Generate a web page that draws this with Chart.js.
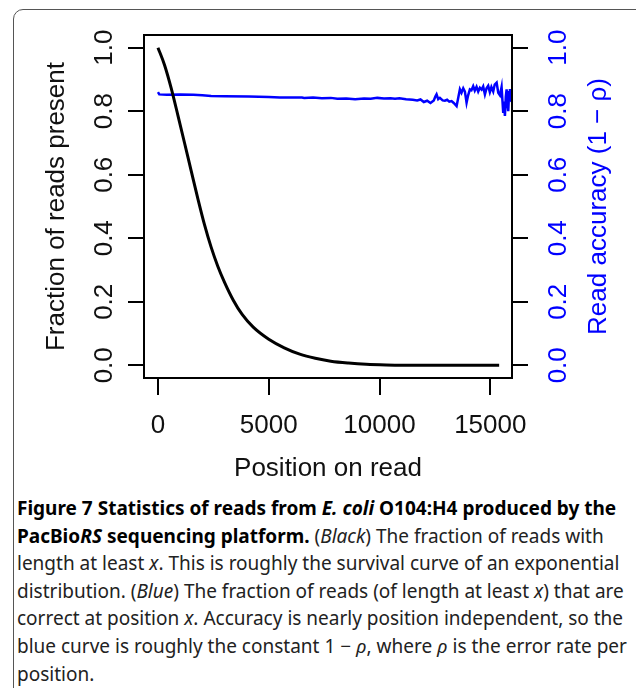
<!DOCTYPE html>
<html>
<head>
<meta charset="utf-8">
<script src="https://cdn.jsdelivr.net/npm/chart.js@4/dist/chart.umd.min.js"></script>
<style>
  html, body { margin: 0; padding: 0; background: #fff; overflow: hidden; }
  body { width: 636px; height: 688px; position: relative; }
  #frame {
    position: absolute; left: 13px; top: 9px; width: 640px; height: 700px;
    border: 1.5px solid #555; border-radius: 10px; box-sizing: border-box;
  }
  #wrap { position: absolute; left: 0; top: 0; width: 636px; height: 490px; }
  #caption {
    position: absolute; left: 17px; top: 495px;
    font-family: "Liberation Sans Narrow", "Noto Sans", sans-serif;
    font-size: 19px; line-height: 27.6px; color: #222;
  }
  #caption div { white-space: nowrap; }
  #caption b { color: #000; }
</style>
</head>
<body>
<div id="frame"></div>
<div id="wrap"><canvas id="myChart" width="636" height="490"></canvas></div>
<div id="caption">
  <div><b>Figure 7 Statistics of reads from <i>E. coli</i> O104:H4 produced by the</b></div>
  <div><b>PacBio<i>RS</i> sequencing platform.</b> (<i>Black</i>) The fraction of reads with</div>
  <div>length at least <i>x</i>. This is roughly the survival curve of an exponential</div>
  <div>distribution. (<i>Blue</i>) The fraction of reads (of length at least <i>x</i>) that are</div>
  <div>correct at position <i>x</i>. Accuracy is nearly position independent, so the</div>
  <div>blue curve is roughly the constant 1 − <i>ρ</i>, where <i>ρ</i> is the error rate per</div>
  <div>position.</div>
</div>
<script>
// reads present (black)
const blackPos  = [0, 300, 600, 900, 1200, 1500, 1800, 2100, 2400, 2700, 3000, 3400, 3800, 4300, 5000, 5700, 6400, 7100, 7800, 8600, 9400, 10300, 11200, 13000, 15400];
const blackFrac = [1.0, 0.945, 0.872, 0.787, 0.700, 0.612, 0.525, 0.443, 0.372, 0.312, 0.262, 0.205, 0.160, 0.120, 0.082, 0.055, 0.035, 0.022, 0.013, 0.007, 0.003, 0.001, 0.0003, 0.0001, 0.0];

// read accuracy (blue)
const bluePos = [0, 60, 400, 1000, 1600, 2000, 2400, 3000, 4100, 5000, 5500, 6500, 6600, 7000, 7400, 7800, 8100, 8500, 8900, 9300,
  9600, 9900, 10200, 10500, 10700, 10900, 11200, 11500, 11700, 11850, 12000, 12150, 12300, 12450, 12520, 12575, 12650, 12724, 12850, 12950,
  13050, 13150, 13253, 13350, 13479, 13560, 13628, 13700, 13780, 13854, 13930, 14000, 14079, 14150, 14229, 14300, 14380, 14455, 14530, 14608,
  14680, 14757, 14830, 14906, 14980, 15050, 15132, 15200, 15286, 15360, 15435, 15510, 15584, 15620, 15660, 15700, 15737, 15780, 15810, 15850,
  15886, 15930, 15963];
const blueAcc = [0.860, 0.853, 0.852, 0.853, 0.852, 0.850, 0.848, 0.847, 0.846, 0.845, 0.843, 0.843, 0.842, 0.843, 0.841, 0.842, 0.839, 0.840, 0.838, 0.840,
  0.839, 0.842, 0.840, 0.841, 0.839, 0.841, 0.838, 0.836, 0.834, 0.837, 0.829, 0.833, 0.826, 0.834, 0.846, 0.853, 0.838, 0.842, 0.834, 0.833,
  0.836, 0.830, 0.832, 0.826, 0.816, 0.845, 0.869, 0.858, 0.872, 0.862, 0.827, 0.850, 0.869, 0.866, 0.879, 0.865, 0.877, 0.862, 0.874, 0.868,
  0.878, 0.853, 0.872, 0.880, 0.860, 0.876, 0.862, 0.884, 0.890, 0.858, 0.850, 0.876, 0.795, 0.830, 0.785, 0.845, 0.869, 0.820, 0.800, 0.860,
  0.870, 0.835, 0.830];

const xTicks = [0, 5000, 10000, 15000];
const yTicks = [0, 0.2, 0.4, 0.6, 0.8, 1.0];
const yTickLabels = ['0.0', '0.2', '0.4', '0.6', '0.8', '1.0'];
const xTitle = 'Position on read';
const yTitle = 'Fraction of reads present';
const y2Title = 'Read accuracy (1 \u2212 \u03c1)';

const FONT = '26px "Liberation Sans", Arial, sans-serif';
const BLUE = '#0000ff';

//draw tick labels, titles and the box
const labelsPlugin = {
  id: 'rlabels',
  afterDraw(chart) {
    const ctx = chart.ctx;
    const a = chart.chartArea;
    const x = chart.scales.x, y = chart.scales.y, y2 = chart.scales.y2;
    ctx.save();
    ctx.strokeStyle = '#000';
    ctx.lineWidth = 2;
    ctx.strokeRect(a.left, a.top, a.right - a.left, a.bottom - a.top);
    ctx.font = FONT;
    ctx.textBaseline = 'alphabetic';
    ctx.textAlign = 'center';
    ctx.fillStyle = '#111';
    xTicks.forEach(v => ctx.fillText(String(v), x.getPixelForValue(v), 433));
    ctx.fillText(xTitle, (a.left + a.right) / 2, 476);
    const vert = (text, px, py, color) => {
      ctx.save();
      ctx.translate(px, py);
      ctx.rotate(-Math.PI / 2);
      ctx.fillStyle = color;
      ctx.fillText(text, 0, 0);
      ctx.restore();
    };
    yTicks.forEach((v, i) => vert(yTickLabels[i], 112, y.getPixelForValue(v), '#111'));
    yTicks.forEach((v, i) => vert(yTickLabels[i], 566, y2.getPixelForValue(v), BLUE));
    const mid = (a.top + a.bottom) / 2;
    vert(yTitle, 63.5, mid, '#111');
    vert(y2Title, 605.5, mid, BLUE);
    ctx.restore();
  }
};

function axisTicks(values) {
  return scale => { scale.ticks = values.map(v => ({ value: v })); };
}

const config = {
  type: 'scatter',
  data: {
    datasets: [
      {
        label: 'Fraction of reads present',
        data: blackPos.map((p, i) => ({ x: p, y: blackFrac[i] })),
        showLine: true,
        borderColor: '#000',
        borderWidth: 3,
        pointRadius: 0,
        cubicInterpolationMode: 'monotone',
        yAxisID: 'y'
      },
      {
        label: 'Read accuracy',
        data: bluePos.map((p, i) => ({ x: p, y: blueAcc[i] })),
        showLine: true,
        borderColor: BLUE,
        borderWidth: 2.5,
        pointRadius: 0,
        tension: 0,
        yAxisID: 'y2'
      }
    ]
  },
  options: {
    responsive: false,
    animation: false,
    events: [],
    layout: { padding: { top: 35, left: 0, right: 0, bottom: 0 } },
    plugins: { legend: { display: false }, tooltip: { enabled: false } },
    scales: {
      x: {
        type: 'linear', min: -630, max: 15980,
        afterBuildTicks: axisTicks(xTicks),
        afterFit: s => { s.height = 112; },
        grid: { drawOnChartArea: false, color: '#000', lineWidth: 2, tickLength: 17 },
        border: { display: false },
        ticks: { display: false }
      },
      y: {
        type: 'linear', position: 'left', min: -0.04, max: 1.04,
        afterBuildTicks: axisTicks(yTicks),
        afterFit: s => { s.width = 144; },
        grid: { drawOnChartArea: false, color: '#000', lineWidth: 2, tickLength: 16 },
        border: { display: false },
        ticks: { display: false }
      },
      y2: {
        type: 'linear', position: 'right', min: -0.04, max: 1.04,
        afterBuildTicks: axisTicks(yTicks),
        afterFit: s => { s.width = 124; },
        grid: { drawOnChartArea: false, color: '#000', lineWidth: 2, tickLength: 16 },
        border: { display: false },
        ticks: { display: false }
      }
    }
  },
  plugins: [labelsPlugin]
};

new Chart(document.getElementById('myChart'), config);
</script>
</body>
</html>
